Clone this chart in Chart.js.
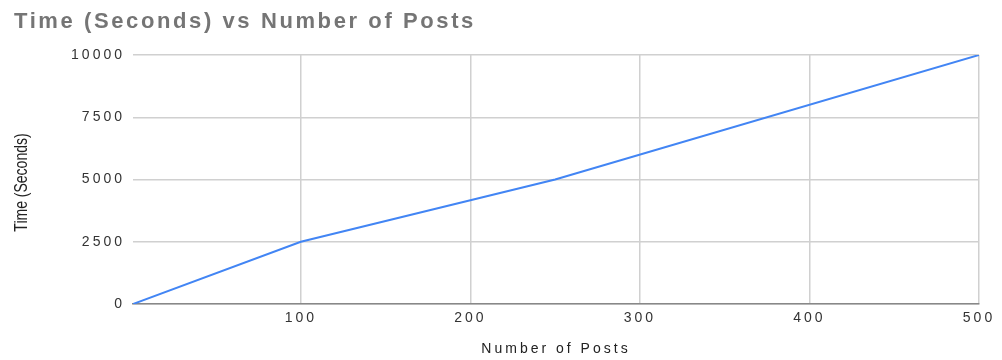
<!DOCTYPE html>
<html>
<head>
<meta charset="utf-8">
<script src="https://cdn.jsdelivr.net/npm/chart.js@4"></script>
<style>
  html, body { margin: 0; padding: 0; background: #fff; }
  #wrap { width: 1002px; height: 360px; position: relative; }
</style>
</head>
<body>
<div id="wrap"><canvas id="chart"></canvas></div>
<script>
// dados
const posts = [1, 100, 250, 500];
const seconds = [0, 2500, 5000, 10000];
const xTicks = [100, 200, 300, 400, 500];
const yTicks = [0, 2500, 5000, 7500, 10000];

const chartTitle = "Time (Seconds) vs Number of Posts";
const yTitle = "Time (Seconds)";
const xTitle = "Number of Posts";

const FONT = "'Liberation Sans', Arial, sans-serif";

// espaco entre letras (o original parece esticado na horizontal)
const spacingPlugin = {
  id: "spacing",
  beforeLayout(chart) { chart.ctx.letterSpacing = "3px"; },
  beforeDraw(chart) { chart.ctx.letterSpacing = "3px"; },
  afterDraw(chart) {
    const ctx = chart.ctx;
    ctx.save();
    ctx.letterSpacing = "2.6px";
    ctx.font = "bold 22px " + FONT;
    ctx.fillStyle = "#757575";
    ctx.textAlign = "left";
    ctx.textBaseline = "alphabetic";
    ctx.fillText(chartTitle, 14, 28);
    ctx.restore();

    ctx.save();
    ctx.letterSpacing = "0px";
    ctx.font = "14px " + FONT;
    ctx.fillStyle = "#222";
    ctx.textAlign = "center";
    ctx.textBaseline = "middle";
    const a = chart.chartArea;
    ctx.translate(22, (a.top + a.bottom) / 2 + 3);
    ctx.rotate(-Math.PI / 2);
    ctx.scale(1, 1.35);
    ctx.fillText(yTitle, 0, 0);
    ctx.restore();
  },
};

const ctx = document.getElementById("chart");
const chart = new Chart(ctx, {
  type: "line",
  data: {
    datasets: [
      {
        label: yTitle,
        data: posts.map((p, i) => ({ x: p, y: seconds[i] })),
        borderColor: "#4285F4",
        borderWidth: 2,
        pointRadius: 0,
        tension: 0,
        fill: false,
      },
    ],
  },
  options: {
    responsive: true,
    maintainAspectRatio: false,
    animation: false,
    layout: { padding: { top: 55, right: 23, left: 0, bottom: 0 } },
    plugins: {
      legend: { display: false },
      title: { display: false },
      tooltip: { enabled: false },
    },
    scales: {
      x: {
        type: "linear",
        min: 1,
        max: 500,
        afterFit: (s) => { s.height = 56; },
        afterBuildTicks: (s) => { s.ticks = xTicks.map((v) => ({ value: v })); },
        ticks: {
          padding: 6,
          maxRotation: 0,
          autoSkip: false,
          color: "#333",
          font: { family: FONT, size: 14 },
          callback: (v) => String(v),
        },
        grid: { drawTicks: false, color: "#d0d0d0", lineWidth: 1.5 },
        border: { display: true, color: "#888", width: 1.5 },
        title: {
          display: true,
          text: xTitle,
          color: "#222",
          font: { family: FONT, size: 14 },
          padding: { top: 0, bottom: 2 },
        },
      },
      y: {
        min: 0,
        max: 10000,
        afterFit: (s) => { s.width = 133; },
        afterBuildTicks: (s) => { s.ticks = yTicks.map((v) => ({ value: v })); },
        ticks: {
          padding: 8,
          color: "#333",
          font: { family: FONT, size: 14 },
          callback: (v) => String(v),
        },
        grid: { drawTicks: false, color: "#d0d0d0", lineWidth: 1.5 },
        border: { display: false },
      },
    },
  },
  plugins: [spacingPlugin],
});
</script>
</body>
</html>
